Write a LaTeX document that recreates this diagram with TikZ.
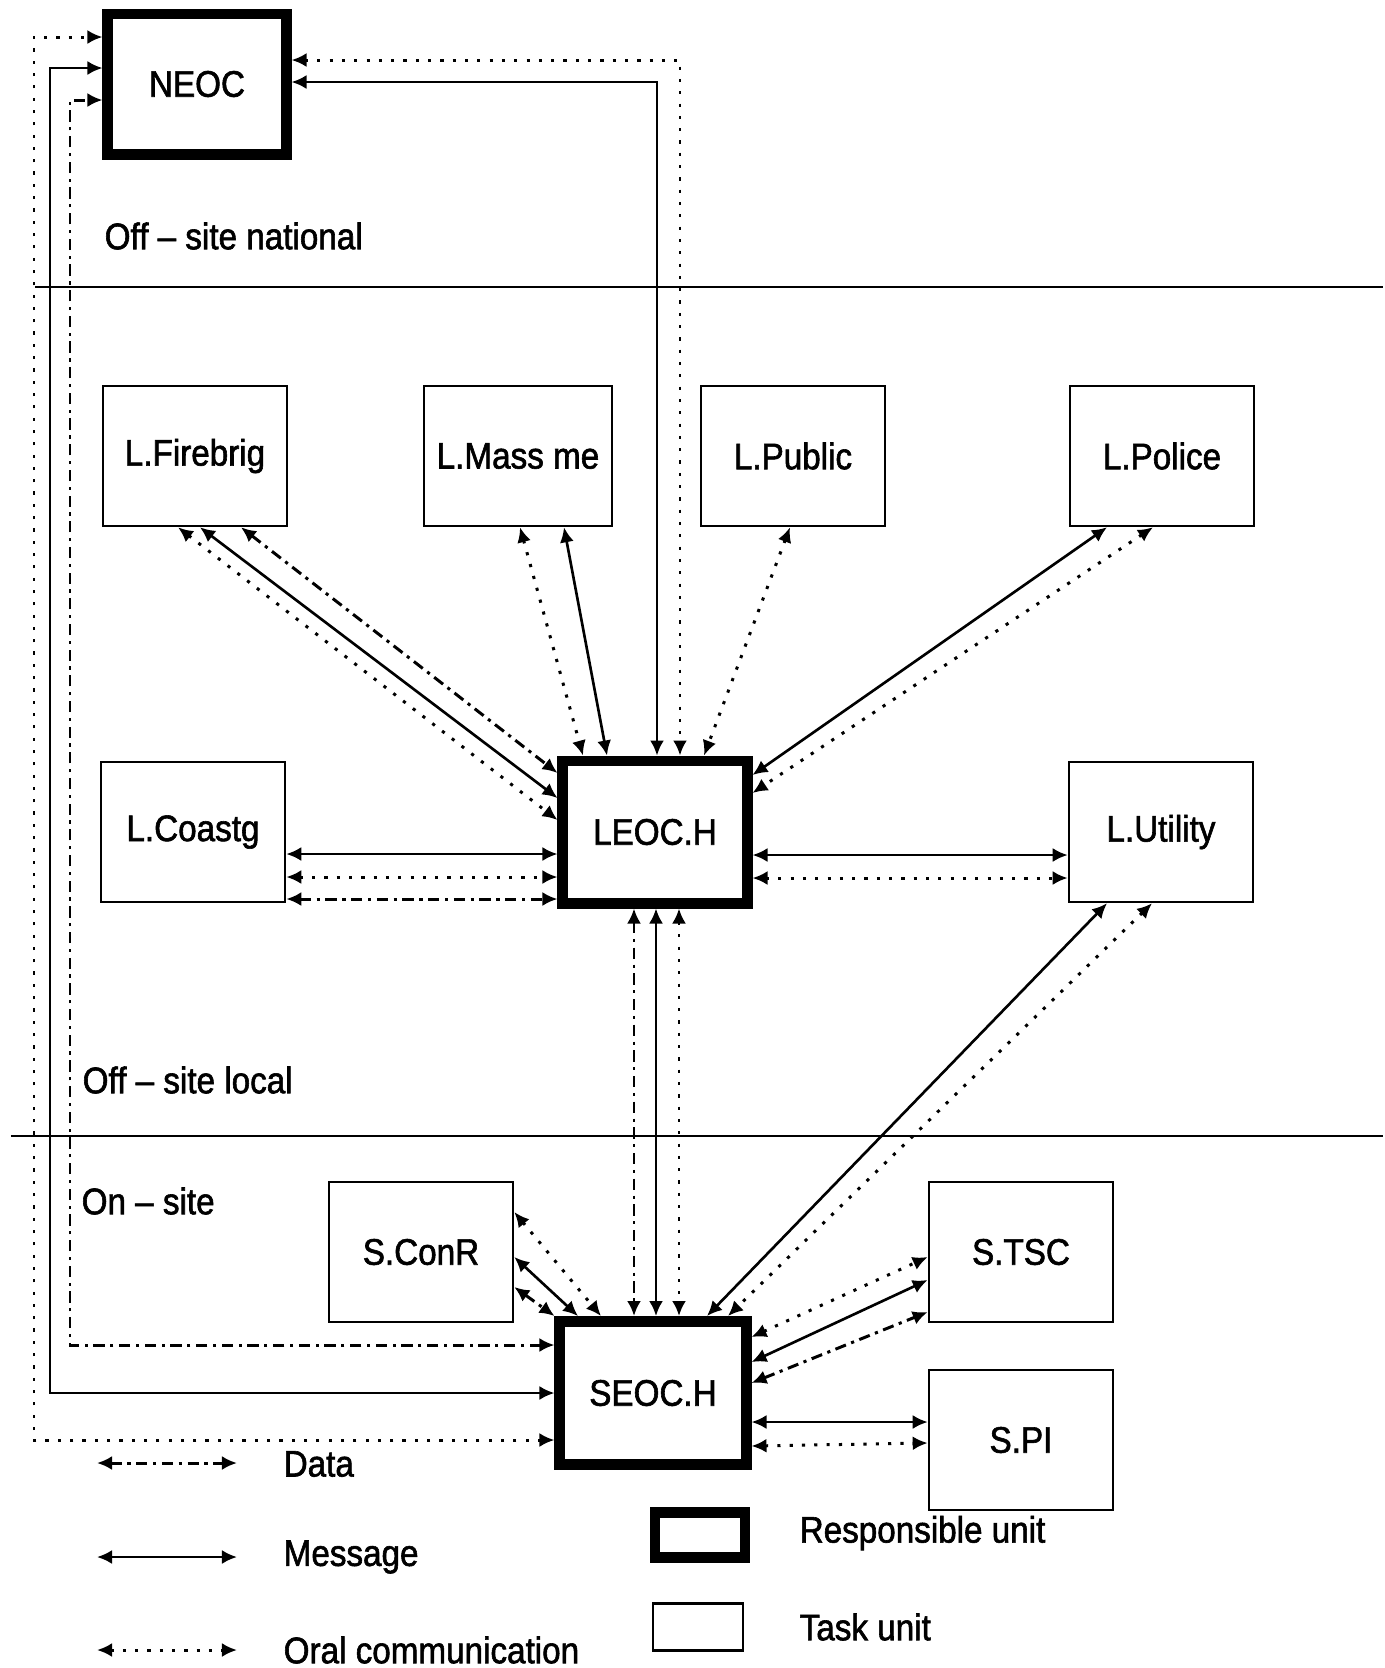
\documentclass[tikz,border=0pt]{standalone}
\usepackage{fontspec}
\setmainfont{Liberation Sans}[FakeStretch=0.9, FakeBold=1.6]
\usetikzlibrary{arrows.meta, calc}
\newcommand{\unitfont}{\fontsize{10.5}{12}\selectfont}

\begin{document}
\begin{tikzpicture}[x=0.01cm, y=-0.01cm,
        resp/.style={rectangle, draw, line width=3.1pt, minimum width=1.84cm, minimum height=1.42cm, inner sep=0pt, fill=white, font=\unitfont},
        task/.style={rectangle, draw, line width=0.7pt, minimum width=1.84cm, minimum height=1.4cm, inner sep=0pt, fill=white, font=\unitfont},
        zone/.style={anchor=west, inner sep=0pt, font=\unitfont},
        msg/.style={<->, >={Latex[length=1.5mm, width=1.4mm]}, line width=0.75pt},
        oral/.style={<->, >={Latex[length=1.5mm, width=1.4mm]}, line width=0.85pt, dash pattern=on 0.9pt off 2.6pt},
        data/.style={<->, >={Latex[length=1.5mm, width=1.4mm]}, line width=0.85pt, dash pattern=on 3.2pt off 1.6pt on 0.9pt off 1.6pt},
        sep/.style={line width=0.8pt}
    ]
        \useasboundingbox (0,0) rectangle (1385,1668);

        % Zones
        \draw[sep] (35,287) -- (1383,287);
        \draw[sep] (11,1136) -- (1383,1136);
        \node[zone] (natl) at (104,236) {Off -- site national};
        \node[zone] (locl) at (82,1080) {Off -- site local};
        \node[zone] (onst) at (81,1201) {On -- site};

        % Units
        \node[resp, minimum width=1.78cm, minimum height=1.4cm] (neoc) at (197,84) {NEOC};

        \node[task] (lfire) at (195,456) {L.Firebrig};
        \node[task, minimum width=1.88cm] (lmass) at (518,456) {L.Mass me};
        \node[task] (lpub) at (793,456) {L.Public};
        \node[task] (lpol) at (1162,456) {L.Police};
        \node[task] (lcoast) at (193,832) {L.Coastg};
        \node[resp] (leoc) at (655,832) {LEOC.H};
        \node[task] (lutil) at (1161,832) {L.Utility};

        \node[task] (sconr) at (421,1252) {S.ConR};
        \node[resp, minimum width=1.86cm, minimum height=1.43cm] (seoc) at (653,1393) {SEOC.H};
        \node[task] (stsc) at (1021,1252) {S.TSC};
        \node[task] (spi) at (1021,1440) {S.PI};

        % SEOC.H and LEOC.H to NEOC
        \draw[oral] (seoc.west |- 0,1440) -| (34,37) -- (neoc.west |- 0,37);
        \draw[msg] (seoc.west |- 0,1393) -| (50,68) -- (neoc.west |- 0,68);
        \draw[data] (seoc.west |- 0,1345) -| (70,100) -- (neoc.west |- 0,100);
        \draw[oral] (neoc.east |- 0,60) -| (leoc.north -| 680,0);
        \draw[msg] (neoc.east |- 0,82) -| (leoc.north -| 657,0);

        % LEOC.H links
        \draw[oral] (lfire.south -| 178,0) -- (leoc.west |- 0,820);
        \draw[msg] (lfire.south -| 200,0) -- (leoc.west |- 0,798);
        \draw[data] (lfire.south -| 241,0) -- (leoc.west |- 0,773);
        \draw[oral] (lmass.south -| 520,0) -- (leoc.north -| 583,0);
        \draw[msg] (lmass.south -| 564,0) -- (leoc.north -| 607,0);
        \draw[oral] (lpub.south -| 790,0) -- (leoc.north -| 704,0);
        \draw[msg] (lpol.south -| 1107,0) -- (leoc.east |- 0,775);
        \draw[oral] (lpol.south -| 1153,0) -- (leoc.east |- 0,793);
        \draw[msg] (lcoast.east |- 0,854) -- (leoc.west |- 0,854);
        \draw[oral] (lcoast.east |- 0,877) -- (leoc.west |- 0,877);
        \draw[data] (lcoast.east |- 0,899) -- (leoc.west |- 0,899);
        \draw[msg] (leoc.east |- 0,855) -- (lutil.west |- 0,855);
        \draw[oral] (leoc.east |- 0,878) -- (lutil.west |- 0,878);

        % SEOC.H links
        \draw[data] (leoc.south -| 634,0) -- (seoc.north -| 634,0);
        \draw[msg] (leoc.south -| 656,0) -- (seoc.north -| 656,0);
        \draw[oral] (leoc.south -| 679,0) -- (seoc.north -| 679,0);
        \draw[msg] (lutil.south -| 1107,0) -- (seoc.north -| 707,0);
        \draw[oral] (lutil.south -| 1152,0) -- (seoc.north -| 728,0);
        \draw[oral] (sconr.east |- 0,1212) -- (seoc.north -| 601,0);
        \draw[msg] (sconr.east |- 0,1257) -- (seoc.north -| 578,0);
        \draw[data] (sconr.east |- 0,1287) -- (seoc.north west);
        \draw[oral] (seoc.east |- 0,1337) -- (stsc.west |- 0,1257);
        \draw[msg] (seoc.east |- 0,1362) -- (stsc.west |- 0,1280);
        \draw[data] (seoc.east |- 0,1383) -- (stsc.west |- 0,1312);
        \draw[msg] (seoc.east |- 0,1422) -- (spi.west |- 0,1422);
        \draw[oral] (seoc.east |- 0,1446) -- (spi.west |- 0,1443);

        % Legend
        \coordinate (datl) at (97,1463);
        \coordinate (datr) at (237,1463);
        \coordinate (msgl) at (97,1557);
        \coordinate (msgr) at (237,1557);
        \coordinate (orall) at (97,1650);
        \coordinate (oralr) at (237,1650);
        \draw[data] (datl) -- (datr);
        \draw[msg] (msgl) -- (msgr);
        \draw[oral] (orall) -- (oralr);
        \node[zone] (datatxt) at (283,1464) {Data};
        \node[zone] (msgtxt) at (283,1557) {Message};
        \node[zone] (oraltxt) at (283,1650) {Oral communication};
        \node[resp, minimum width=0.9cm, minimum height=0.45cm] (keyresp) at (700,1535) {};
        \node[task, minimum width=0.9cm, minimum height=0.47cm] (keytask) at (698,1627) {};
        \node[zone] (resptxt) at (799,1533) {Responsible unit};
        \node[zone] (tasktxt) at (799,1627) {Task unit};
\end{tikzpicture}
\end{document}
